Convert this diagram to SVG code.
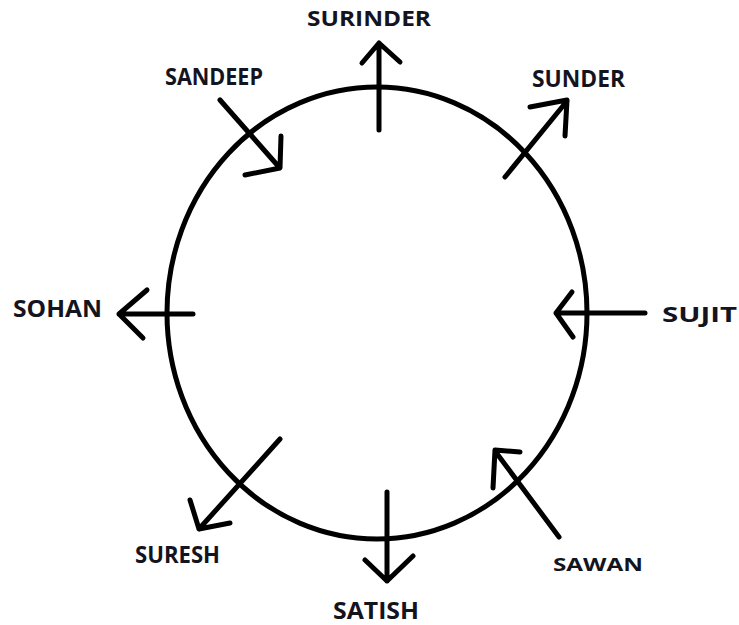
<svg xmlns="http://www.w3.org/2000/svg" width="739" height="625" viewBox="0 0 739 625">
<style>
.ring{fill:none;stroke:#000;stroke-width:5}
.a{fill:none;stroke:#000;stroke-width:5;stroke-linecap:round;stroke-linejoin:round}
.t{font-family:"Open Sans","Liberation Sans",sans-serif;font-weight:700;fill:#141420}
</style>
<rect width="739" height="625" fill="#fff"/>
<g id="circle"><ellipse class="ring" cx="377" cy="313" rx="210" ry="226"/></g>
<g id="connectors">
<path class="a" d="M379,130 L379,43 M362,63 L379,43 L400,62"/>
<path class="a" d="M220,100 L279,167 M281,136 L280,168 L245,175"/>
<path class="a" d="M505,177 L567,101 M530,107 L567,100 L565,136"/>
<path class="a" d="M193,314 L119,314 M147,290 L119,314 L143,338"/>
<path class="a" d="M645,313 L556,313 M572,292 L556,313 L573,337"/>
<path class="a" d="M280,439 L199,529 M190,500 L199,529 L230,523"/>
<path class="a" d="M387,492 L387,581 M365,560 L387,581 L413,556"/>
<path class="a" d="M559,537 L495,451 M520,452 L495,450 L493,488"/>
</g>
<g id="surinder"><text class="t" x="307" y="26" font-size="22" textLength="124" lengthAdjust="spacingAndGlyphs">SURINDER</text></g>
<g id="sandeep"><text class="t" x="165" y="85" font-size="24" textLength="98" lengthAdjust="spacingAndGlyphs">SANDEEP</text></g>
<g id="sunder"><text class="t" x="532" y="87" font-size="23" textLength="93" lengthAdjust="spacingAndGlyphs">SUNDER</text></g>
<g id="sohan"><text class="t" x="13" y="317" font-size="23" textLength="89" lengthAdjust="spacingAndGlyphs">SOHAN</text></g>
<g id="sujit"><text class="t" x="662" y="322" font-size="21" textLength="75" lengthAdjust="spacingAndGlyphs">SUJIT</text></g>
<g id="suresh"><text class="t" x="135" y="563" font-size="23" textLength="85" lengthAdjust="spacingAndGlyphs">SURESH</text></g>
<g id="satish"><text class="t" x="333" y="619" font-size="23" textLength="86" lengthAdjust="spacingAndGlyphs">SATISH</text></g>
<g id="sawan"><text class="t" x="553" y="571" font-size="18" textLength="90" lengthAdjust="spacingAndGlyphs">SAWAN</text></g>
</svg>
